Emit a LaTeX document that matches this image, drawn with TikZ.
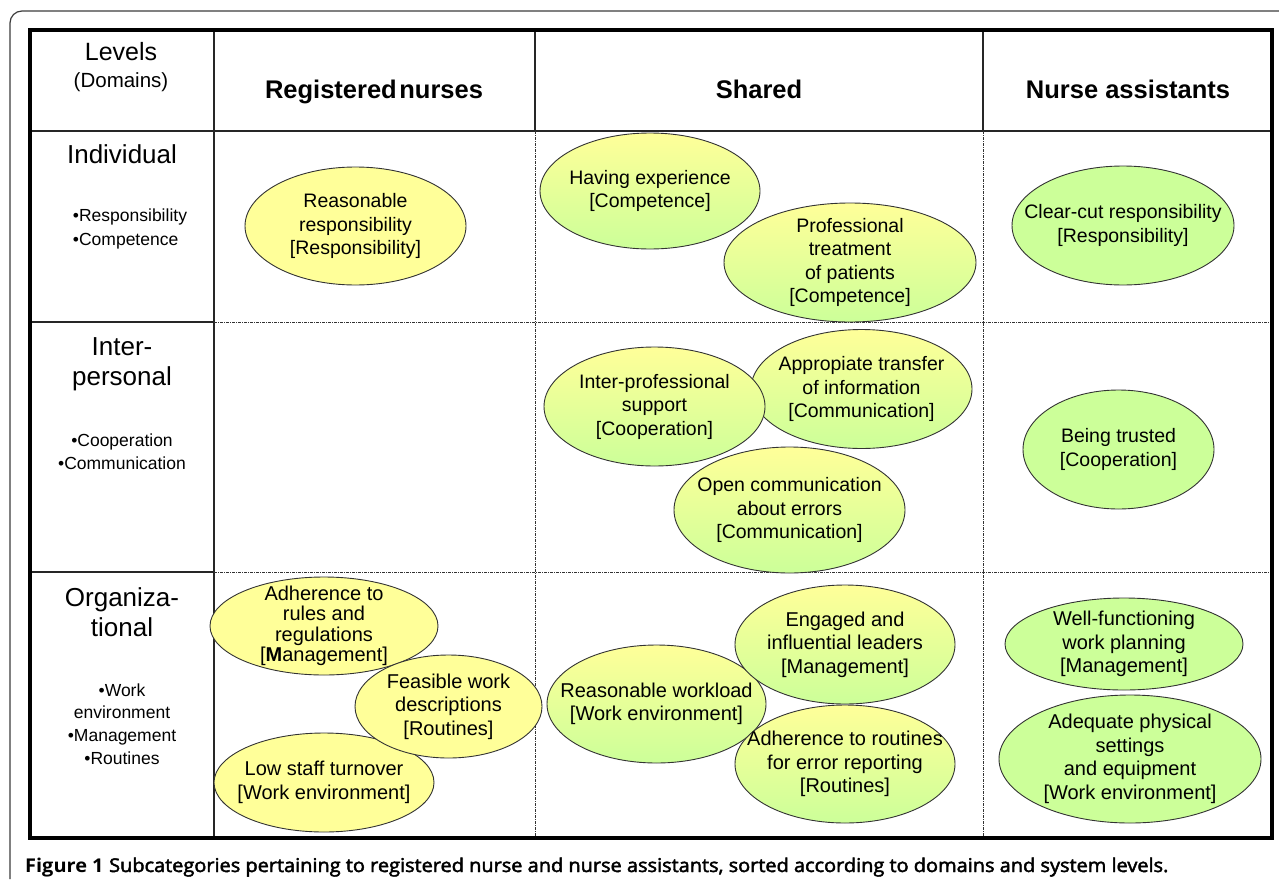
\documentclass[tikz,border=0pt]{standalone}
\usepackage{fontspec}
\setmainfont{Liberation Sans}
\newfontfamily\capfont{Open Sans}
\usetikzlibrary{shapes.geometric}
\definecolor{ylw}{RGB}{255,255,153}
\definecolor{grn}{RGB}{204,255,153}
\definecolor{framec}{RGB}{60,60,60}
% style, name, x, y, width, height, text style, text
\newcommand\ovalnode[8]{%
  \node[#1, minimum width=#5pt, minimum height=#6pt] (#2) at (#3,#4) {};
  \node[#7] (#2t) at (#2.center) {#8};}
\newcommand\semibold[1]{\special{pdf:literal direct 2 Tr 0.45 w}#1\special{pdf:literal direct 0 Tr}}
\begin{document}
\begin{tikzpicture}[x=1pt,y=-1pt,
  ell/.style={ellipse, draw=black!80, line width=0.9pt, inner sep=0pt},
  rn/.style={ell, fill=ylw},
  sh/.style={ell, top color=ylw, bottom color=grn},
  na/.style={ell, fill=grn},
  tx/.style={align=center, inner sep=0pt, font=\fontsize{19.5}{23.5}\selectfont},
  txo/.style={align=center, inner sep=0pt, font=\fontsize{20}{23.5}\selectfont},
  txr/.style={align=center, inner sep=0pt, font=\fontsize{20}{20.5}\selectfont},
  thinline/.style={line width=1.1pt, black!85},
  dd/.style={line width=0.9pt, black!80, dash pattern=on 3pt off 1pt on 1pt off 1pt},
  big/.style={font=\fontsize{26}{29.5}\selectfont, align=center, inner sep=0pt},
  small/.style={font=\fontsize{17.5}{23}\selectfont, align=center, inner sep=0pt},
  head/.style={font=\fontsize{25.5}{30}\selectfont\bfseries, inner sep=0pt, anchor=base}
]
\useasboundingbox (0,0) rectangle (1279,883);
\fill[white] (0,0) rectangle (1279,883);

% outer frame
\draw[framec, line width=1.2pt, rounded corners=12pt] (10,879) -- (10,11) -- (1295,11);

% grid: solid lines
\draw[thinline] (30,131) -- (1272,131);
\draw[thinline] (214,30) -- (214,838);
\draw[thinline] (30,322) -- (214,322);
\draw[thinline] (30,572) -- (214,572);
\draw[thinline] (535,30) -- (535,131);
\draw[thinline] (983,30) -- (983,131);
% grid: dash-dotted lines
\draw[dd] (214,322) -- (1272,322);
\draw[dd] (214,572) -- (1272,572);
\draw[dd] (535,131) -- (535,838);
\draw[dd] (983,131) -- (983,838);
% thick border
\draw[line width=3.5pt, black] (30,30) rectangle (1272,838);

% header texts
\node[font=\fontsize{25}{28}\selectfont, inner sep=0pt, anchor=base] (lev) at (121,61) {Levels};
\node[font=\fontsize{20.5}{24}\selectfont, inner sep=0pt, anchor=base] (dom) at (121,88) {(Domains)};
\node[head] (hrn) at (374,98) {Registered\hspace{0.1em}nurses};
\node[head] (hsh) at (759,98) {Shared};
\node[head] (hna) at (1128,98) {Nurse assistants};

% row labels
\node[big] (lind) at (122,154) {Individual};
\node[small, align=left, font=\fontsize{17.5}{24}\selectfont] (bind) at (130,229) {•Responsibility\\•Competence};
\node[big] (linter) at (122,364) {Inter-\\personal};
\node[small] (binter) at (122,451.5) {•Cooperation\\•Communication};
\node[big] (lorg) at (122,612) {Organiza-\\tional};
\node[small, font=\fontsize{17.5}{22.7}\selectfont] (borg) at (122,724) {•Work\\environment\\•Management\\•Routines};

% Individual row
\ovalnode{rn}{e1}{355.5}{226}{221}{118}{tx}{Reasonable\\responsibility\\{[}Responsibility{]}}
\ovalnode{sh}{e2}{650}{191}{220}{116}{tx}{Having experience\\{[}Competence{]}}
\ovalnode{sh}{e3}{850}{262.5}{252}{119}{tx}{Professional\\treatment\\of patients\\{[}Competence{]}}
\ovalnode{na}{e4}{1123}{225.5}{222}{119}{tx}{Clear-cut responsibility\\{[}Responsibility{]}}

% Interpersonal row
\ovalnode{sh}{e6}{861.5}{389}{221}{119}{tx}{Appropiate transfer\\of information\\{[}Communication{]}}
\ovalnode{sh}{e5}{654.5}{406.5}{221}{119}{tx}{Inter-professional\\support\\{[}Cooperation{]}}
\ovalnode{sh}{e7}{789.5}{510}{231}{126}{tx}{Open communication\\about errors\\{[}Communication{]}}
\ovalnode{na}{e8}{1118.5}{449.5}{191}{119}{tx}{Being trusted\\{[}Cooperation{]}}

% Organizational row
\ovalnode{rn}{e9}{324}{626}{228}{98}{txr}{Adherence to\\rules and\\regulations\\{[}\textbf{M}anagement{]}}
\ovalnode{rn}{e11}{324}{782.5}{220}{99}{txo}{Low staff turnover\\{[}Work environment{]}}
\ovalnode{rn}{e10}{448.5}{706.5}{187}{103}{txo}{Feasible work\\descriptions\\{[}Routines{]}}
\ovalnode{sh}{e12}{656.5}{704}{219}{118}{txo}{Reasonable workload\\{[}Work environment{]}}
\ovalnode{sh}{e13}{845}{644.5}{220}{119}{txo}{Engaged and\\influential leaders\\{[}Management{]}}
\ovalnode{sh}{e14}{845}{764}{220}{118}{txo}{Adherence to routines\\for error reporting\\{[}Routines{]}}
\ovalnode{na}{e15}{1124}{644}{238}{92}{txo}{Well-functioning\\work planning\\{[}Management{]}}
\ovalnode{na}{e16}{1130}{759}{262}{128}{txo}{Adequate physical\\settings\\and equipment\\{[}Work environment{]}}

% caption
\node[anchor=base west, inner sep=0pt, font=\fontsize{19}{22}\selectfont] (cap) at (25,872)
  {\scalebox{1.05}[1]{{\capfont\bfseries Figure 1} {\capfont\semibold{Subcategories pertaining to registered nurse and nurse assistants, sorted according to domains and system levels.}}}};
\end{tikzpicture}
\end{document}
